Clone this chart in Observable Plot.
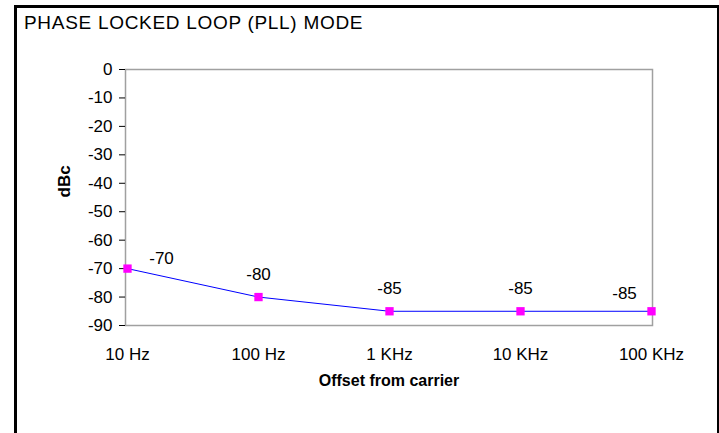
<!DOCTYPE html>
<html>
<head>
<meta charset="utf-8">
<script src="https://cdn.jsdelivr.net/npm/d3@7"></script>
<script src="https://cdn.jsdelivr.net/npm/@observablehq/plot@0.6"></script>
<style>
  html, body { margin: 0; padding: 0; background: #fff; overflow: hidden; }
  #wrap { position: relative; width: 719px; height: 433px; font-family: "Liberation Sans", Arial, sans-serif; }
  #wrap svg { position: absolute; left: 0; top: 0; }
  #border { position: absolute; left: 14px; top: 5px; width: 700px; height: 460px; border: 3px solid #000; box-sizing: content-box; pointer-events: none; }
  #title { position: absolute; left: 24px; top: 12px; font-size: 19px; color: #000; white-space: nowrap; letter-spacing: 0.7px; }
</style>
</head>
<body>
<div id="wrap">
  <div id="border"></div>
  <div id="title">PHASE LOCKED LOOP (PLL) MODE</div>
</div>
<script>
const categories = ["10 Hz", "100 Hz", "1 KHz", "10 KHz", "100 KHz"];
const values = [-70, -80, -85, -85, -85];
const yTicks = [0, -10, -20, -30, -40, -50, -60, -70, -80, -90];
const yLabel = "dBc";
const xLabel = "Offset from carrier";
// label placement offsets (styling only)
const labelDx = [34, 0, 0, 0, -27];
const labelDy = [-5, -17, -17, -17, -12];

const data = categories.map((c, i) => ({cat: c, v: values[i]}));
const font = "Liberation Sans, Arial, sans-serif";

const labelMarks = data.map((d, i) =>
  Plot.text([d], {x: "cat", y: "v", text: r => String(r.v), dx: labelDx[i], dy: labelDy[i],
    lineAnchor: "bottom", fontSize: 17, fill: "#000"})
);

const chart = Plot.plot({
  width: 719,
  height: 433,
  marginLeft: 125,
  marginRight: 67,
  marginTop: 69,
  marginBottom: 108,
  style: {fontFamily: font, background: "transparent", color: "#000"},
  x: {type: "point", domain: categories, padding: 0},
  y: {domain: [-90, 0]},
  marks: [
    Plot.frame({stroke: "#a0a0a0", strokeWidth: 1.5}),
    Plot.axisY({ticks: yTicks, tickSize: 6, tickPadding: 7, fontSize: 17, tickFormat: d => String(d), line: true, label: null, stroke: "#000", strokeWidth: 1}),
    Plot.axisX({tickSize: 0, tickPadding: 22, fontSize: 17, label: null}),
    Plot.line(data, {x: "cat", y: "v", stroke: "#0000ff", strokeWidth: 1}),
    Plot.dot(data, {x: "cat", y: "v", symbol: "square", r: 4.7, fill: "#ff00ff", stroke: null}),
    ...labelMarks,
    Plot.text([yLabel], {frameAnchor: "left", dx: -61, rotate: -90, fontSize: 17, fontWeight: "bold", fill: "#000"}),
    Plot.text([xLabel], {frameAnchor: "bottom", dy: 60, fontSize: 16, fontWeight: "bold", fill: "#000"})
  ]
});
document.getElementById("wrap").prepend(chart);
</script>
</body>
</html>
